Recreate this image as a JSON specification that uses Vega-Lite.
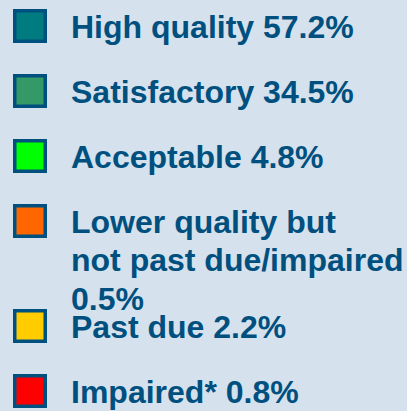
{
  "$schema": "https://vega.github.io/schema/vega-lite/v6.json",
  "width": 407,
  "height": 411,
  "padding": 0,
  "autosize": {"type": "none"},
  "background": "#D5E1ED",
  "config": {
    "view": {"stroke": null},
    "legend": {
      "orient": "none",
      "title": null,
      "padding": 0,
      "symbolType": "square",
      "symbolSize": 930,
      "symbolStrokeColor": "#00507F",
      "symbolStrokeWidth": 3.5,
      "symbolOpacity": 1,
      "labelFont": "Liberation Sans",
      "labelFontSize": 32,
      "labelFontWeight": "bold",
      "labelColor": "#00507F",
      "labelLimit": 0,
      "labelOffset": 24,
      "labelBaseline": "alphabetic",
      "rowPadding": 19
    }
  },
  "data": {
    "values": [
      {"label": "High quality 57.2%", "pct": 57.2},
      {"label": "Satisfactory 34.5%", "pct": 34.5},
      {"label": "Acceptable 4.8%", "pct": 4.8},
      {"label": "Lower quality but not past due/impaired 0.5%", "pct": 0.5},
      {"label": "Past due 2.2%", "pct": 2.2},
      {"label": "Impaired* 0.8%", "pct": 0.8}
    ]
  },
  "layer": [
    {
      "transform": [{"filter": {"field": "label", "oneOf": ["High quality 57.2%", "Satisfactory 34.5%", "Acceptable 4.8%", "Lower quality but not past due/impaired 0.5%"]}}],
      "mark": {"type": "arc", "radius": 0, "strokeWidth": 0},
      "encoding": {
        "theta": {"field": "pct", "type": "quantitative"},
        "color": {
          "field": "label",
          "type": "nominal",
          "sort": null,
          "scale": {
            "domain": ["High quality 57.2%", "Satisfactory 34.5%", "Acceptable 4.8%", "Lower quality but not past due/impaired 0.5%"],
            "range": ["#007C80", "#339966", "#00FF00", "#FF6600"]
          },
          "legend": {
            "legendX": 13,
            "legendY": 9,
            "labelExpr": "datum.label == 'Lower quality but not past due/impaired 0.5%' ? ['Lower quality but', 'not past due/impaired', '0.5%'] : datum.label",
            "encode": {
              "labels": {"update": {"dy": {"value": 11.5}, "lineHeight": {"value": 38.5}}},
              "symbols": {"update": {"stroke": {"value": "#00507F"}, "strokeWidth": {"value": 3.5}, "opacity": {"value": 1}}}
            }
          }
        }
      }
    },
    {
      "transform": [{"filter": {"field": "label", "oneOf": ["Past due 2.2%", "Impaired* 0.8%"]}}],
      "mark": {"type": "arc", "radius": 0, "strokeWidth": 0},
      "encoding": {
        "theta": {"field": "pct", "type": "quantitative"},
        "color": {
          "field": "label",
          "type": "nominal",
          "sort": null,
          "scale": {
            "domain": ["Past due 2.2%", "Impaired* 0.8%"],
            "range": ["#FFCC00", "#FF0000"]
          },
          "legend": {
            "legendX": 13,
            "legendY": 309,
            "encode": {
              "labels": {"update": {"dy": {"value": 11.5}}},
              "symbols": {"update": {"stroke": {"value": "#00507F"}, "strokeWidth": {"value": 3.5}, "opacity": {"value": 1}}}
            }
          }
        }
      }
    }
  ],
  "resolve": {"scale": {"color": "independent", "theta": "independent"}, "legend": {"color": "independent"}}
}
